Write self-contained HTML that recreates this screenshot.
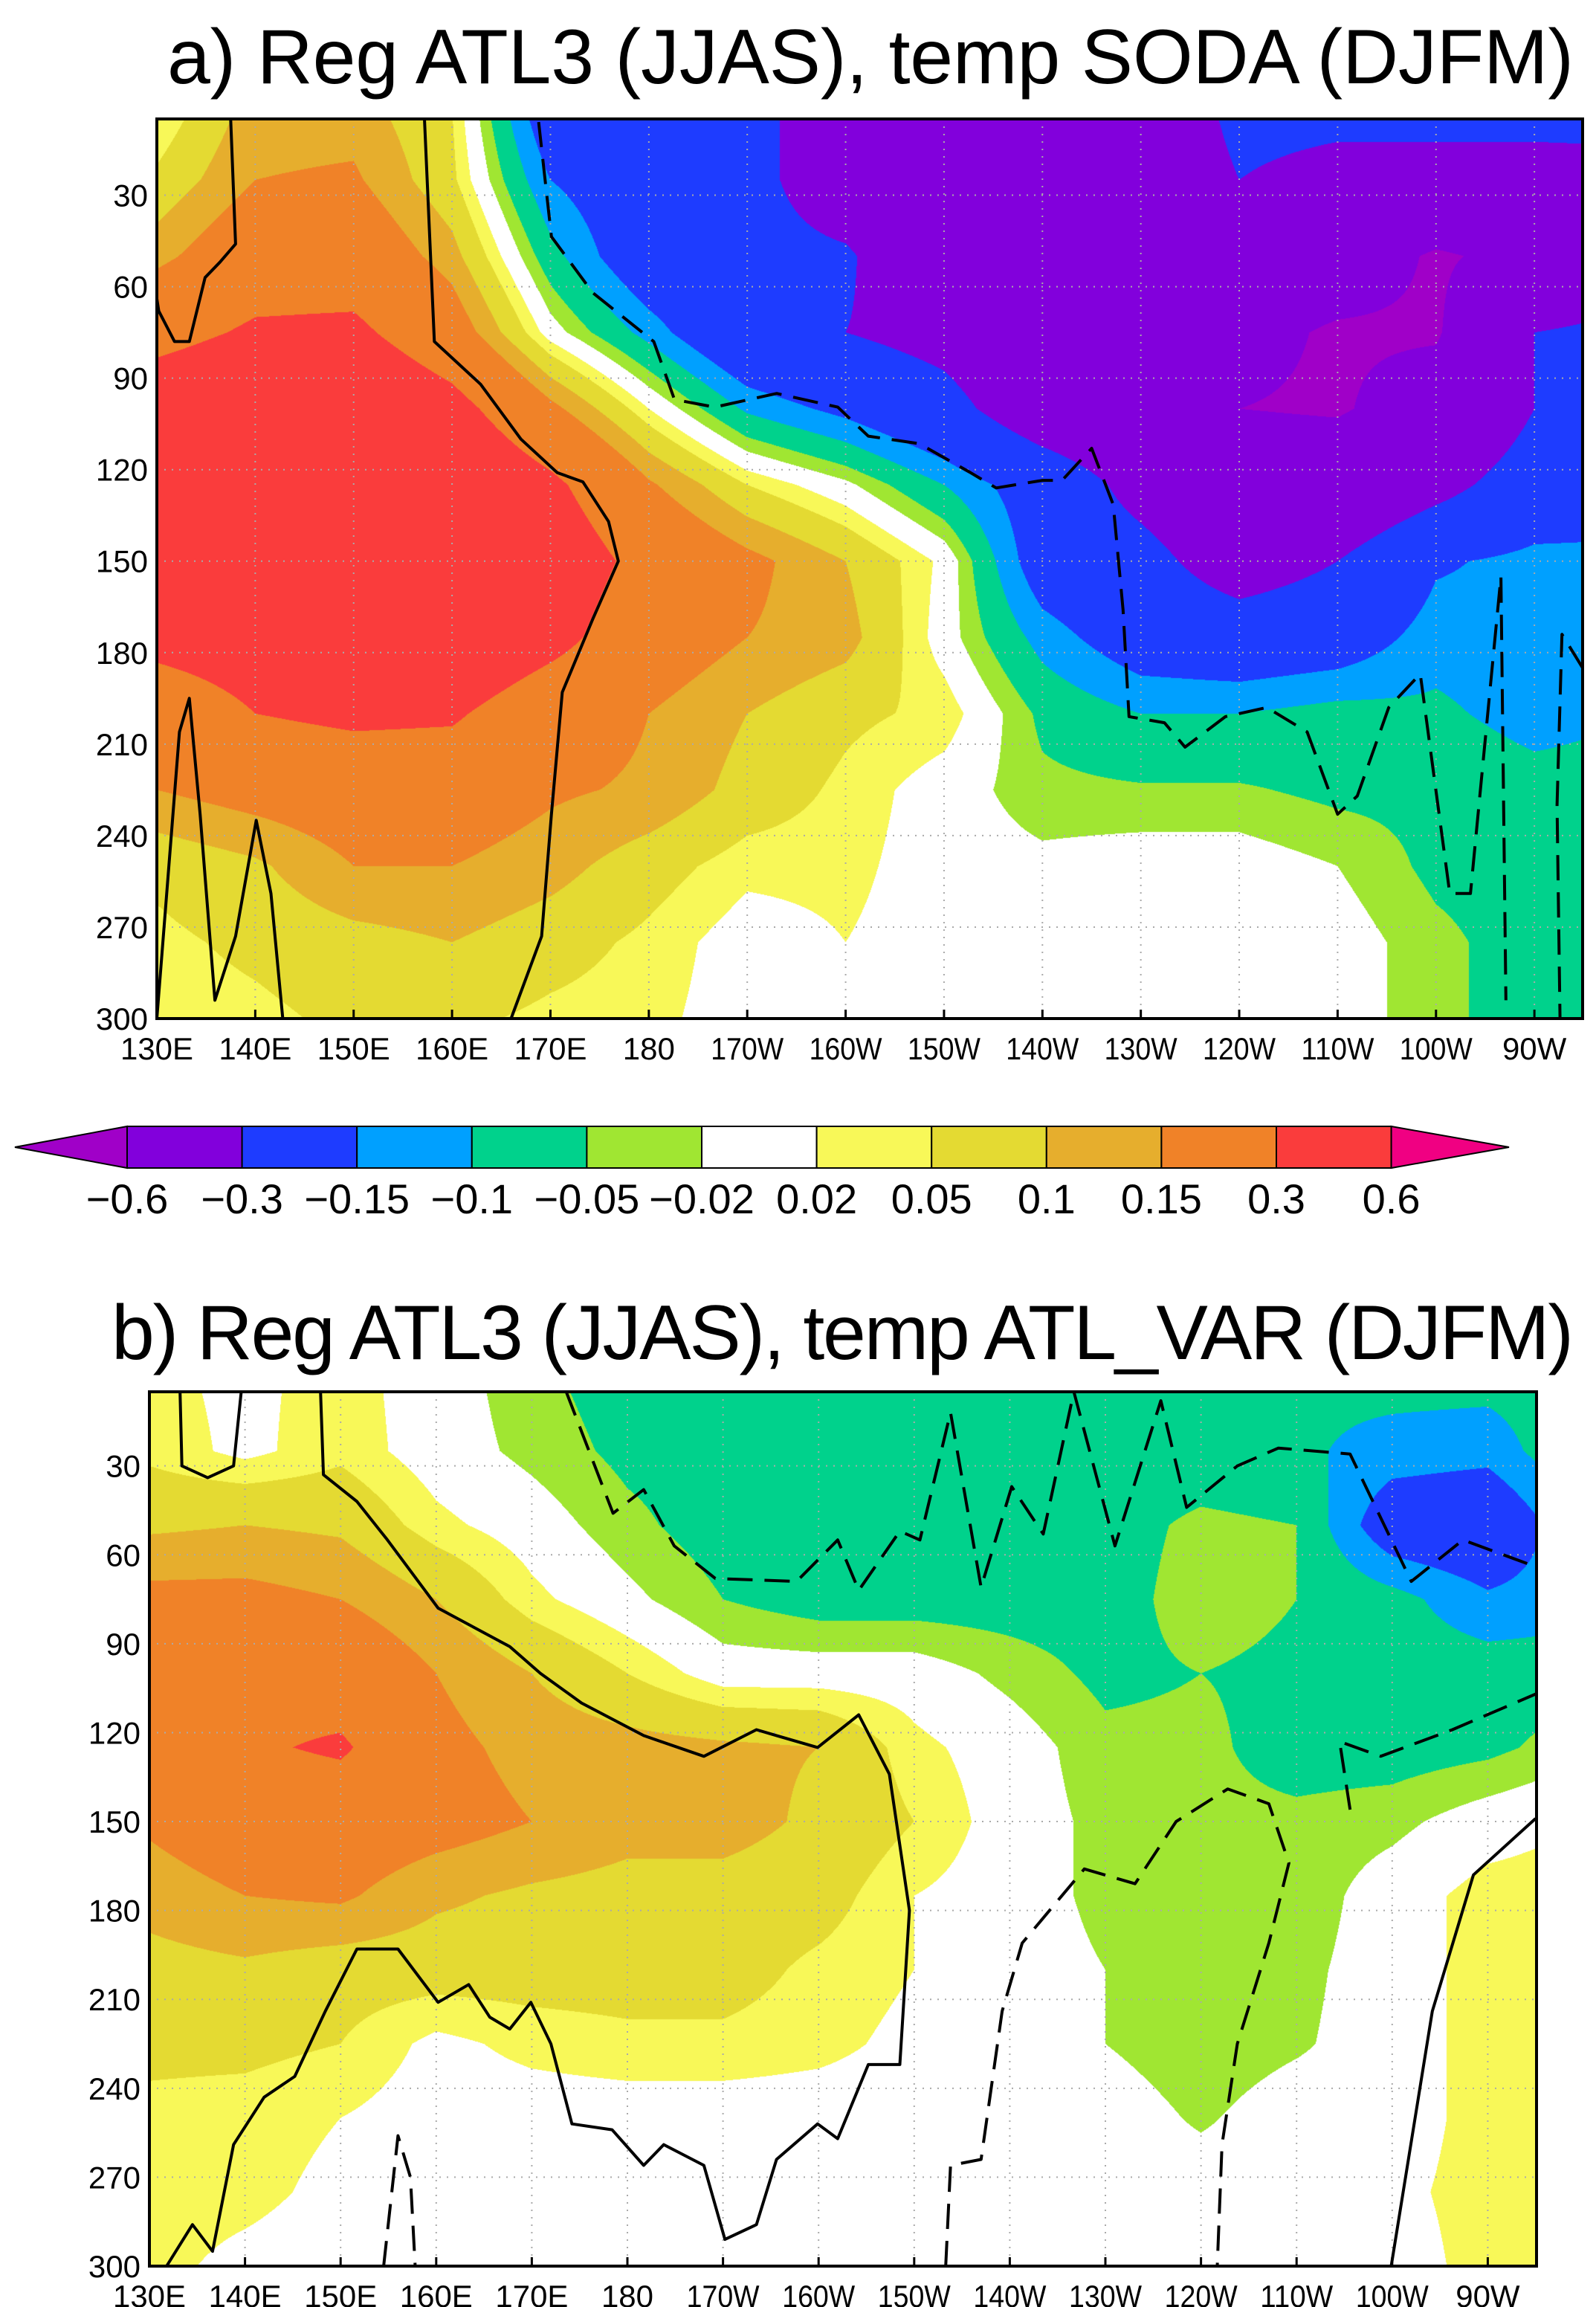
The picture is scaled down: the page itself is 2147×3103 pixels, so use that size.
<!DOCTYPE html>
<html><head><meta charset="utf-8">
<style>
html,body{margin:0;padding:0;background:#fff;}
#root{position:relative;width:2147px;height:3103px;overflow:hidden;background:#fff;}
canvas{position:absolute;}
svg{position:absolute;left:0;top:0;}
text{font-family:"Liberation Sans",sans-serif;fill:#000;}
</style></head>
<body>
<div id="root">
<canvas id="cA"></canvas>
<canvas id="cB"></canvas>
<svg id="ov" width="2147" height="3103"></svg>
</div>
<script>
// ---- data ----
const lonNodes = [130,140,150,160,170,180,190,200,210,220,230,240,250,260,270,280];
const depthNodes = [0,25,50,75,100,125,150,175,200,225,250,275,300];
const levels = [-0.6,-0.3,-0.15,-0.1,-0.05,-0.02,0.02,0.05,0.1,0.15,0.3,0.6];
const levelLabels = ["-0.6","-0.3","-0.15","-0.1","-0.05","-0.02","0.02","0.05","0.1","0.15","0.3","0.6"];
const levelColors = ["#a000c8","#8200dc","#1e3cff","#00a0ff","#00d28c","#a0e632","#ffffff","#f8f858","#e4da32","#e6ae2d","#f08228","#fa3c3c","#f00082"];
const depthTicks = [30,60,90,120,150,180,210,240,270,300];
const lonTicks = [130,140,150,160,170,180,190,200,210,220,230,240,250,260,270];
const lonTickLabels = ["130E","140E","150E","160E","170E","180","170W","160W","150W","140W","130W","120W","110W","100W","90W"];
const valsA = [
[0.01,0.12,0.12,0.05,-0.22,-0.2,-0.25,-0.4,-0.45,-0.45,-0.45,-0.25,-0.25,-0.2,-0.2,-0.2],
[0.06,0.15,0.16,0.06,-0.15,-0.22,-0.25,-0.4,-0.45,-0.45,-0.45,-0.3,-0.35,-0.4,-0.4,-0.38],
[0.13,0.22,0.22,0.12,-0.08,-0.22,-0.25,-0.28,-0.45,-0.45,-0.45,-0.5,-0.5,-0.62,-0.55,-0.4],
[0.25,0.32,0.33,0.2,0.0,-0.12,-0.25,-0.3,-0.35,-0.45,-0.45,-0.55,-0.62,-0.62,-0.3,-0.25],
[0.4,0.45,0.45,0.35,0.17,0.02,-0.11,-0.17,-0.25,-0.4,-0.45,-0.6,-0.62,-0.5,-0.3,-0.25],
[0.45,0.45,0.45,0.45,0.33,0.16,0.05,-0.01,-0.1,-0.2,-0.35,-0.45,-0.45,-0.35,-0.22,-0.2],
[0.45,0.45,0.45,0.45,0.4,0.25,0.17,0.1,0.01,-0.2,-0.25,-0.38,-0.3,-0.16,-0.13,-0.13],
[0.35,0.38,0.45,0.45,0.35,0.2,0.15,0.12,0.0,-0.12,-0.2,-0.22,-0.2,-0.12,-0.13,-0.15],
[0.2,0.3,0.33,0.32,0.2,0.15,0.1,0.06,0.04,-0.06,-0.1,-0.1,-0.08,-0.09,-0.12,-0.1],
[0.15,0.18,0.2,0.2,0.16,0.14,0.08,0.04,0.0,-0.04,-0.045,-0.045,-0.06,-0.06,-0.08,-0.08],
[0.06,0.09,0.15,0.15,0.12,0.07,0.03,0.03,0.0,-0.01,0.0,0.0,-0.02,-0.06,-0.07,-0.07],
[0.04,0.06,0.08,0.1,0.07,0.04,0.0,0.02,0.0,0.0,0.0,0.0,0.0,-0.04,-0.07,-0.07],
[0.03,0.04,0.06,0.06,0.04,0.03,0.0,0.02,0.0,0.0,0.0,0.0,0.0,-0.04,-0.07,-0.07]
];
const valsB = [
[0.03,0.01,0.035,0.0,-0.04,-0.07,-0.07,-0.08,-0.08,-0.08,-0.08,-0.08,-0.09,-0.08,-0.08,-0.07],
[0.04,0.01,0.04,0.0,-0.03,-0.06,-0.07,-0.08,-0.08,-0.08,-0.08,-0.08,-0.09,-0.12,-0.13,-0.05],
[0.09,0.1,0.09,0.03,0.0,-0.04,-0.07,-0.08,-0.08,-0.08,-0.07,-0.04,-0.05,-0.2,-0.22,-0.1],
[0.17,0.17,0.15,0.1,0.03,-0.01,-0.05,-0.07,-0.07,-0.07,-0.07,-0.03,-0.05,-0.08,-0.14,-0.12],
[0.2,0.25,0.22,0.15,0.1,0.05,0.0,0.0,0.0,-0.03,-0.06,-0.05,-0.06,-0.07,-0.07,-0.07],
[0.22,0.28,0.32,0.17,0.13,0.12,0.11,0.1,0.03,0.0,-0.04,-0.04,-0.07,-0.07,-0.06,-0.03],
[0.16,0.2,0.2,0.18,0.15,0.12,0.12,0.09,0.05,0.0,-0.03,-0.04,-0.04,-0.03,0.0,0.02],
[0.12,0.15,0.16,0.11,0.09,0.08,0.08,0.07,0.02,0.0,-0.03,-0.04,-0.04,0.0,0.035,0.04],
[0.08,0.09,0.07,0.07,0.07,0.07,0.07,0.04,0.02,0.0,-0.02,-0.04,-0.03,0.0,0.035,0.04],
[0.06,0.06,0.05,0.01,0.03,0.04,0.04,0.03,0.01,0.0,-0.02,-0.04,-0.025,0.0,0.035,0.05],
[0.04,0.035,0.02,0.0,0.0,0.0,0.0,0.0,0.0,0.0,0.0,-0.025,0.0,0.0,0.035,0.035],
[0.035,0.03,0.01,0,0,0,0,0,0,0,0,0,0,0.01,0.035,0.035],
[0.03,0.01,0,0,0,0,0,0,0,0,0,0,0,0,0.035,0.035]
];
// contour lines as [lon, depth] pairs
const aSolidMain = [[157.2,5],[158.2,78],[162.9,92],[167,110],[170.7,121],[173.3,124],[175.9,137],[176.9,150],[174.3,169],[171.2,193],[170.1,233],[169.1,273],[166,300]];
const aSolidTopLeft = [[137.5,5],[138,46],[136.4,52],[134.9,57],[133.3,78],[131.8,78],[130.2,68],[130,64]];
const aSolidBottomLeft = [[130,300],[132.3,206],[133.3,195],[134.4,233],[135.9,294],[138,273],[140.1,235],[141.6,259],[142.8,300]];
const aDashed = [[168.8,6],[170.1,43.6],[174.3,62],[180.5,78],[182.6,97],[186.7,99.5],[193,95],[199.2,99.5],[202.3,109],[207.5,111.5],[212.7,121],[215.3,126],[220,123.5],[222,123.5],[225,113],[227.2,131.5],[228.2,166],[228.8,201],[232.4,203],[234.5,211],[238.6,201],[242.8,198],[246.9,206],[250,233],[252,227],[255.2,198],[258.4,187],[261.4,259],[263.5,259],[266.6,155],[267.1,294]];
const aDashedRight = [[274.9,185],[272.8,174],[272.3,230],[272.6,300]];
const bSolidMain = [[147.9,5],[148.2,33],[151.7,42],[154.9,55],[160.2,78],[167.7,91],[170.9,100],[175.2,110],[181.7,121],[188,128],[193.5,119],[195.6,121],[199.9,125],[204.2,114],[207.4,134],[209.5,180],[208.5,232],[205.2,232],[202,257],[199.9,252],[195.6,264],[193.5,286],[190.2,291],[188,266],[183.8,259],[181.7,266],[178.4,254],[174.2,252],[172,225],[169.9,211],[167.7,220],[165.6,216],[163.4,205],[160.2,211],[156,193],[151.7,193],[148.4,214],[145.2,236],[142,243],[138.8,259],[136.6,295],[134.5,286],[131.8,300]];
const bSolidRight = [[259.9,300],[264.2,214],[268.5,168],[275,149]];
const bSolidLoop = [[133.2,5],[133.4,30],[136.1,34],[138.8,30],[139.6,5]];
const bDashedTop = [[173.6,5],[178.5,46],[181.7,38],[184.9,57],[189.2,68],[197.7,69],[202,55],[204.2,72],[208.5,52],[210.6,55],[213.8,12],[217,71],[220.2,37],[223.5,53],[226.7,5],[231,57],[235.8,8],[238.5,44],[243.8,30],[248.1,24],[255.6,26],[262,69],[267.4,55],[275,64]];
const bDashedMid = [[213.3,300],[213.8,266],[217,264],[219.2,214],[221.3,191],[227.8,166],[233.1,171],[237.4,150],[242.8,139],[247.1,144],[249.2,164],[247.1,191],[243.8,225],[242.2,259],[241.7,300]];
const bDashedRight = [[255.6,146],[254.5,123],[258.8,128],[266.3,119],[275,107]];
const bDashedLeft = [[154.5,300],[156,256],[157.3,270],[157.8,300]];

// ---- layout ----
const panels = [
 {id:"a", canvas:"cA", vals:valsA, left:211, right:2129, top:160, bottom:1370, lon0:130, lon1:274.9, d0:5, d1:300,
  title:"a) Reg ATL3 (JJAS), temp SODA (DJFM)", tx:225, tw:1892, ty:112,
  solid:[aSolidMain,aSolidTopLeft,aSolidBottomLeft], dashed:[aDashed,aDashedRight]},
 {id:"b", canvas:"cB", vals:valsB, left:201, right:2067, top:1872, bottom:3048, lon0:130, lon1:275.1, d0:5, d1:300,
  title:"b) Reg ATL3 (JJAS), temp ATL_VAR (DJFM)", tx:150, tw:1967, ty:1828,
  solid:[bSolidMain,bSolidRight,bSolidLoop], dashed:[bDashedTop,bDashedMid,bDashedRight,bDashedLeft]}
];
const NS = "http://www.w3.org/2000/svg";
const ov = document.getElementById("ov");
function mk(tag, attrs, parent){
  const e = document.createElementNS(NS, tag);
  for (const k in attrs) e.setAttribute(k, attrs[k]);
  (parent||ov).appendChild(e);
  return e;
}
function hex(c){return [parseInt(c.substr(1,2),16),parseInt(c.substr(3,2),16),parseInt(c.substr(5,2),16)];}
const rgb = levelColors.map(hex);
function levelIndex(v){let i=0; while(i<levels.length && v>=levels[i]) i++; return i;}
function sample(vals, lon, d){
  let fx = (lon-lonNodes[0])/(lonNodes[1]-lonNodes[0]);
  let fy = (d-depthNodes[0])/(depthNodes[1]-depthNodes[0]);
  fx = Math.max(0, Math.min(lonNodes.length-1.0001, fx));
  fy = Math.max(0, Math.min(depthNodes.length-1.0001, fy));
  const i = Math.floor(fx), j = Math.floor(fy), u = fx-i, w = fy-j;
  return vals[j][i]*(1-u)*(1-w)+vals[j][i+1]*u*(1-w)+vals[j+1][i]*(1-u)*w+vals[j+1][i+1]*u*w;
}

panels.forEach(p=>{
  const xOf = lon => p.left + (lon-p.lon0)/(p.lon1-p.lon0)*(p.right-p.left);
  const yOf = d => p.top + (d-p.d0)/(p.d1-p.d0)*(p.bottom-p.top);
  const W = p.right-p.left, H = p.bottom-p.top;
  const cv = document.getElementById(p.canvas);
  cv.width = W; cv.height = H; cv.style.left = p.left+"px"; cv.style.top = p.top+"px";
  const ctx = cv.getContext("2d");
  const img = ctx.createImageData(W,H);
  for (let y=0;y<H;y++){
    const d = p.d0 + (y+0.5)/H*(p.d1-p.d0);
    for (let x=0;x<W;x++){
      const lon = p.lon0 + (x+0.5)/W*(p.lon1-p.lon0);
      const c = rgb[levelIndex(sample(p.vals, lon, d))];
      const k = (y*W+x)*4;
      img.data[k]=c[0]; img.data[k+1]=c[1]; img.data[k+2]=c[2]; img.data[k+3]=255;
    }
  }
  ctx.putImageData(img,0,0);

  const g = mk("g",{});
  
  
  depthTicks.forEach(d=>{
    const l = mk("line",{x1:p.left,x2:p.right,y1:yOf(d),y2:yOf(d),stroke:"#aaa","stroke-width":2,"stroke-dasharray":"2 8"},g);
    
    
    const t = mk("text",{x:p.left-12,y:yOf(d)+15,"text-anchor":"end","font-size":42},g);
    t.textContent = String(d);
    
    
  });
  lonTicks.forEach((lon,i)=>{
    const l = mk("line",{x1:xOf(lon),x2:xOf(lon),y1:p.top,y2:p.bottom,stroke:"#aaa","stroke-width":2,"stroke-dasharray":"2 8"},g);
    
    
    const tk = mk("line",{x1:xOf(lon),x2:xOf(lon),y1:p.bottom,y2:p.bottom-12,stroke:"#000","stroke-width":3},g);
    
    
    const t = mk("text",{x:xOf(lon),y:p.bottom+55,"text-anchor":"middle","font-size":42,textLength:98,lengthAdjust:"spacingAndGlyphs"},g);
    if (lonTickLabels[i].length<4) t.removeAttribute("textLength");
    t.textContent = lonTickLabels[i];
    
    
  });
  const toPts = arr => arr.map(q=>xOf(q[0]).toFixed(1)+","+yOf(q[1]).toFixed(1)).join(" ");
  p.solid.forEach(arr=>{
    const pl = mk("polyline",{points:toPts(arr),fill:"none",stroke:"#000","stroke-width":4,"stroke-linejoin":"round"},g);
    
    
  });
  p.dashed.forEach(arr=>{
    const pl = mk("polyline",{points:toPts(arr),fill:"none",stroke:"#000","stroke-width":4,"stroke-dasharray":"34 16","stroke-linejoin":"round"},g);
    
    
  });
  const fr = mk("rect",{x:p.left,y:p.top,width:W,height:H,fill:"none",stroke:"#000","stroke-width":4},g);
  
  
  const tt = mk("text",{x:p.tx,y:p.ty,"font-size":104,textLength:p.tw,lengthAdjust:"spacing"},g);
  tt.textContent = p.title;
  
  
});

// ---- colorbar ----
const cb = mk("g",{});


const cbL = 171, cbBox = 154.6, cbT = 1515, cbB = 1571;
const cbX = k => cbL + k*cbBox;
const tl = mk("polygon",{points:`20,${(cbT+cbB)/2} ${cbX(0)},${cbT} ${cbX(0)},${cbB}`,fill:levelColors[0],stroke:"#000","stroke-width":2},cb);


for (let k=1;k<levelColors.length-1;k++){
  const r = mk("rect",{x:cbX(k-1),y:cbT,width:cbBox,height:cbB-cbT,fill:levelColors[k],stroke:"#000","stroke-width":2},cb);
  
  
}
const nB = levelColors.length-2;
const tr = mk("polygon",{points:`${cbX(nB)},${cbT} 2030,${(cbT+cbB)/2} ${cbX(nB)},${cbB}`,fill:levelColors[levelColors.length-1],stroke:"#000","stroke-width":2},cb);


levelLabels.forEach((s,k)=>{
  const t = mk("text",{x:cbX(k),y:1632,"text-anchor":"middle","font-size":56},cb);
  t.textContent = s.replace("-","\u2212");
  
  
});
</script>
</body></html>
